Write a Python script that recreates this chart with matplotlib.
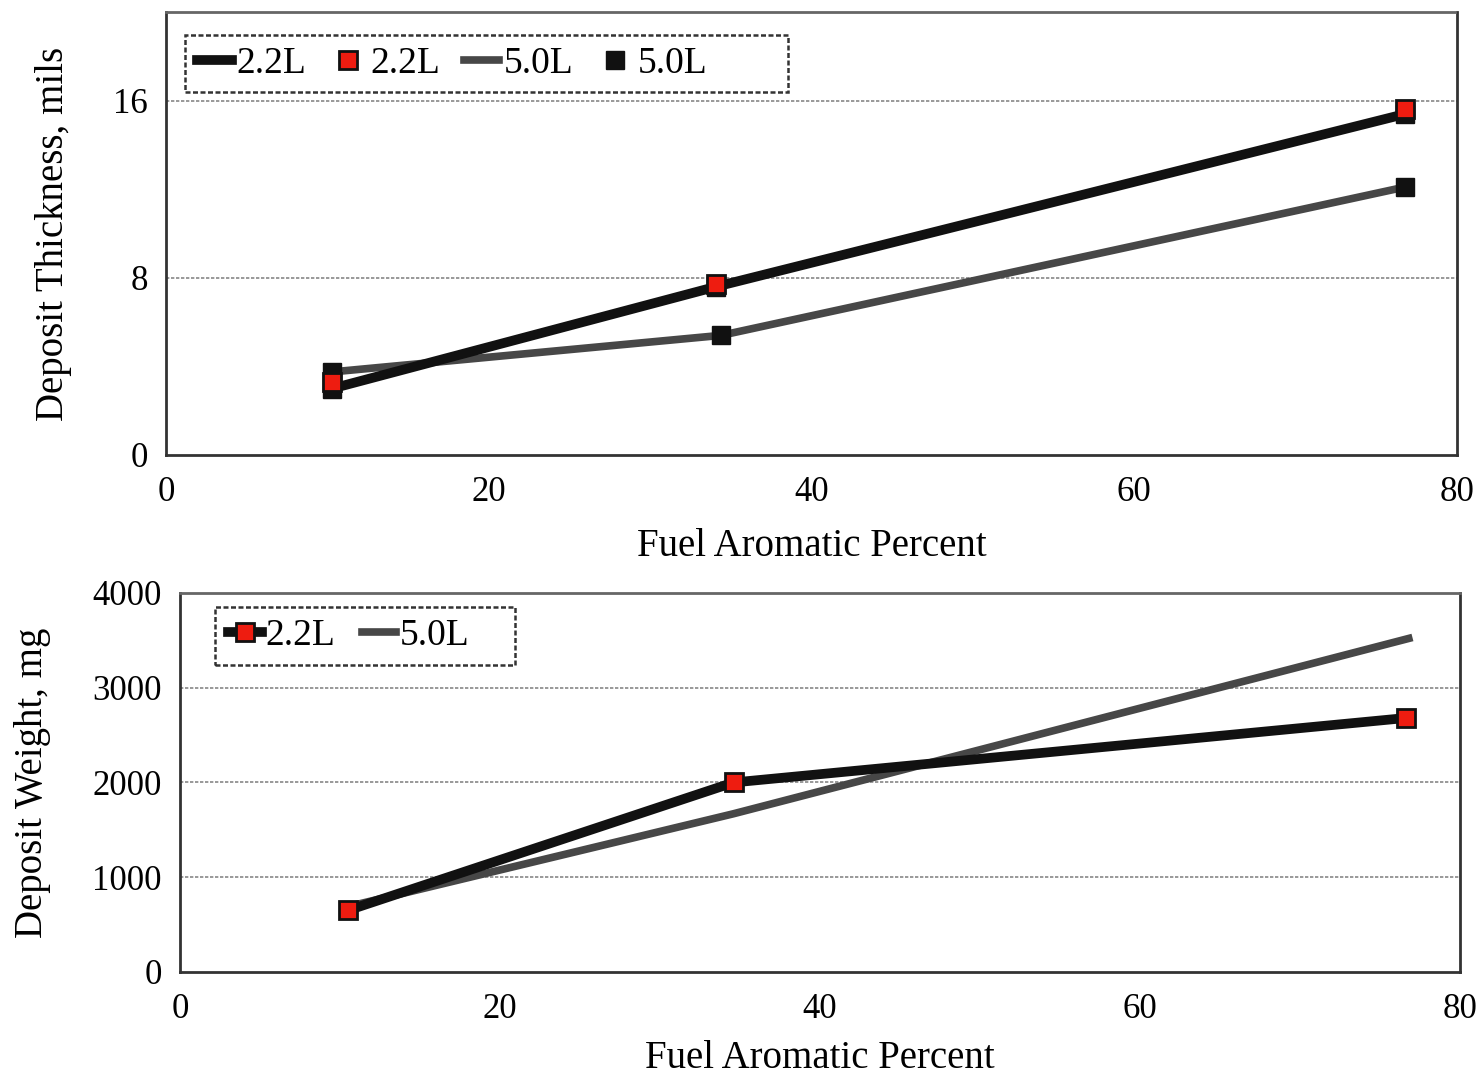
import matplotlib
matplotlib.use('Agg')
import matplotlib.pyplot as plt
from matplotlib.patches import Rectangle

plt.rcParams['font.family'] = ['Liberation Serif', 'DejaVu Serif']

# Deposit thickness (mils) vs fuel aromatic percent
thick_x_22 = [10.3, 34.1, 76.8]
thick_y_22 = [3.0, 7.6, 15.4]
thick_mark_x_22 = [10.3, 34.1, 76.8]
thick_mark_y_22 = [3.3, 7.7, 15.6]
thick_x_50 = [10.3, 34.4, 76.8]
thick_y_50 = [3.75, 5.4, 12.1]

# Deposit weight (mg) vs fuel aromatic percent
weight_x_22 = [10.5, 34.6, 76.6]
weight_y_22 = [650, 2000, 2680]
weight_x_50 = [10.5, 34.6, 76.8]
weight_y_50 = [690, 1670, 3520]

x_ticks = [0, 20, 40, 60, 80]
thick_ticks = [0, 8, 16]
weight_ticks = [0, 1000, 2000, 3000, 4000]

BLACK = '#111111'
GRAY = '#474747'
RED = '#ee1c10'
TICK_FS = 25
LABEL_FS = 28
LEG_FS = 27

fig = plt.figure(figsize=(14.84, 10.74), dpi=100)
ax1 = fig.add_axes([0.1119, 0.5764, 0.8699, 0.4124])
ax2 = fig.add_axes([0.1213, 0.0950, 0.8625, 0.3529])


def style_axes(ax, yticks, ymax, xlabelpad):
    ax.set_xlim(0, 80)
    ax.set_ylim(0, ymax)
    ax.set_xticks(x_ticks)
    ax.set_yticks(yticks)
    ax.tick_params(length=0, labelsize=TICK_FS)
    ax.tick_params(axis='x', pad=15)
    ax.tick_params(axis='y', pad=13)
    for g in yticks[1:]:
        ax.axhline(g, color='#888888', lw=1.2, ls=(0, (2, 1)), zorder=0)
    for s in ax.spines.values():
        s.set_color('#333333')
        s.set_linewidth(2)
    ax.spines['top'].set_linestyle((0, (2, 1)))
    ax.spines['top'].set_color('#666666')
    ax.set_xlabel('Fuel Aromatic Percent', fontsize=LABEL_FS, labelpad=xlabelpad)


def legend_box(ax, x0, y0, x1, y1):
    # the legend frame is wider than its entries, so it is drawn by hand
    ax.add_patch(Rectangle((x0, y0), x1 - x0, y1 - y0, transform=ax.transAxes,
                           fill=True, facecolor='white', edgecolor='#333333',
                           lw=1.8, ls=(0, (2, 1)), zorder=6))


# top panel
ax1.plot(thick_x_22, thick_y_22, color=BLACK, lw=7, label='2.2L', zorder=3)
ax1.plot(thick_x_22, thick_y_22, ls='none', marker='s', ms=13,
         mfc=BLACK, mec=BLACK, zorder=3)
ax1.plot(thick_mark_x_22, thick_mark_y_22, ls='none', marker='s', ms=13,
         mfc=RED, mec=BLACK, mew=2, label='2.2L', zorder=5)
ax1.plot(thick_x_50, thick_y_50, color=GRAY, lw=5.5, label='5.0L', zorder=2)
ax1.plot(thick_x_50, thick_y_50, ls='none', marker='s', ms=13,
         mfc=BLACK, mec=BLACK, label='5.0L', zorder=4)
style_axes(ax1, thick_ticks, 20, 14)
ax1.set_ylabel('Deposit Thickness, mils', fontsize=LABEL_FS, labelpad=30)
legend_box(ax1, 0.0147, 0.8194, 0.4818, 0.948)
leg1 = ax1.legend(loc='center left', ncol=4, fontsize=LEG_FS, frameon=False,
                  handlelength=0.93, handletextpad=0.13,
                  columnspacing=0.64, borderpad=0, borderaxespad=0,
                  bbox_to_anchor=(0.024, 0.884))
leg1.set_zorder(7)

# bottom panel
ax2.plot(weight_x_22, weight_y_22, color=BLACK, lw=7, marker='s', ms=13,
         mfc=RED, mec=BLACK, mew=2, label='2.2L', zorder=3)
ax2.plot(weight_x_50, weight_y_50, color=GRAY, lw=5.5, label='5.0L', zorder=2)
style_axes(ax2, weight_ticks, 4000, 10)
ax2.set_ylabel('Deposit Weight, mg', fontsize=LABEL_FS, labelpad=30)
legend_box(ax2, 0.0273, 0.810, 0.2617, 0.963)
leg2 = ax2.legend(loc='center left', ncol=2, fontsize=LEG_FS, frameon=False,
                  handlelength=0.9, handletextpad=0.1,
                  columnspacing=0.72, borderpad=0, borderaxespad=0,
                  bbox_to_anchor=(0.0375, 0.8865))
leg2.set_zorder(7)

fig.savefig('out.png', dpi=100)
